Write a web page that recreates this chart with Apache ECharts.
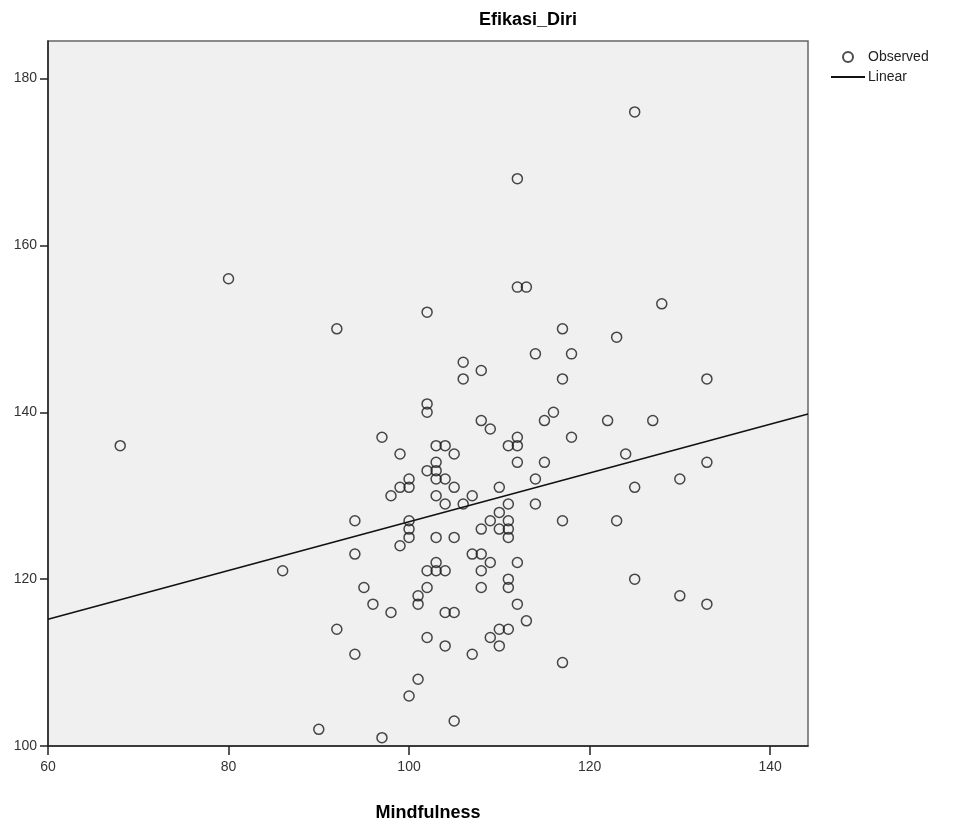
<!DOCTYPE html>
<html>
<head>
<meta charset="utf-8">
<script src="https://cdn.jsdelivr.net/npm/echarts@6/dist/echarts.min.js"></script>
<style>
  html, body { margin: 0; padding: 0; background: #fff; }
  #main { width: 953px; height: 827px; }
</style>
</head>
<body>
<div id="main"></div>
<script>
// Mindfulness (x) vs Efikasi_Diri (y)
var mindfulness = [
    125, 112, 80, 92, 68, 112, 113, 128, 102, 117,
    123, 114, 118, 106, 108, 106, 117, 133, 102, 102,
    116, 108, 115, 122, 127, 109, 97, 112, 118, 103,
    104, 111, 112, 99, 105, 124, 103, 112, 115, 133,
    102, 103, 100, 103, 104, 114, 130, 99, 100, 105,
    110, 125, 98, 103, 107, 104, 106, 111, 114, 110,
    94, 100, 109, 111, 117, 123, 100, 108, 110, 111,
    100, 103, 105, 111, 99, 94, 107, 108, 103, 109,
    112, 86, 102, 103, 104, 108, 111, 125, 95, 102,
    108, 111, 101, 130, 96, 101, 112, 133, 98, 104,
    105, 113, 92, 110, 111, 102, 109, 104, 110, 94,
    107, 117, 101, 100, 105, 90, 97
];
var efikasiDiri = [
    176, 168, 156, 150, 136, 155, 155, 153, 152, 150,
    149, 147, 147, 146, 145, 144, 144, 144, 141, 140,
    140, 139, 139, 139, 139, 138, 137, 137, 137, 136,
    136, 136, 136, 135, 135, 135, 134, 134, 134, 134,
    133, 133, 132, 132, 132, 132, 132, 131, 131, 131,
    131, 131, 130, 130, 130, 129, 129, 129, 129, 128,
    127, 127, 127, 127, 127, 127, 126, 126, 126, 126,
    125, 125, 125, 125, 124, 123, 123, 123, 122, 122,
    122, 121, 121, 121, 121, 121, 120, 120, 119, 119,
    119, 119, 118, 118, 117, 117, 117, 117, 116, 116,
    116, 115, 114, 114, 114, 113, 113, 112, 112, 111,
    111, 110, 108, 106, 103, 102, 101
];
// linear fit line as drawn (x, y at the two ends of the plot)
var linearX = [60, 144.2];
var linearY = [115.2, 139.8];

var xTicks = [60, 80, 100, 120, 140];
var yTicks = [100, 120, 140, 160, 180];

var observed = mindfulness.map(function (x, i) { return [x, efikasiDiri[i]]; });
var linear = linearX.map(function (x, i) { return [x, linearY[i]]; });

var myChart = echarts.init(document.getElementById('main'));

var font = '"Liberation Sans", Arial, sans-serif';

var option = {
    animation: false,
    title: {
        text: 'Efikasi_Diri',
        left: 523,
        textAlign: 'center',
        top: 6,
        textStyle: { fontFamily: font, fontSize: 18, fontWeight: 'bold', color: '#000' }
    },
    legend: {
        orient: 'vertical',
        left: 826,
        top: 45,
        itemGap: 6,
        itemWidth: 34,
        itemHeight: 10,
        symbolKeepAspect: true,
        textStyle: { fontFamily: font, fontSize: 14, color: '#222', padding: [0, 0, 0, -2] },
        data: [
            {
                name: 'Observed', icon: 'emptyCircle',
                itemStyle: { color: '#222', borderColor: '#222', borderWidth: 1.4 }
            },
            { name: 'Linear', icon: 'path://M0,5 L34,5 L34,7 L0,7 Z' }
        ]
    },
    grid: {
        left: 48,
        right: 145,
        top: 41,
        bottom: 79,
        show: true,
        backgroundColor: '#f0f0f0',
        borderColor: '#666',
        borderWidth: 1.5
    },
    xAxis: {
        type: 'value',
        min: 60,
        max: 144.2,
        interval: 20,
        name: 'Mindfulness',
        nameLocation: 'middle',
        nameGap: 58,
        nameTextStyle: { fontFamily: font, fontSize: 18, fontWeight: 'bold', color: '#000' },
        axisLine: { lineStyle: { color: '#222', width: 1.5 } },
        axisTick: { show: true, length: 9, customValues: xTicks, lineStyle: { color: '#222', width: 1.5 } },
        axisLabel: {
            fontFamily: font, fontSize: 14, color: '#333', margin: 14,
            customValues: xTicks
        },
        splitLine: { show: false }
    },
    yAxis: {
        type: 'value',
        min: 100,
        max: 184.5,
        interval: 20,
        axisLine: { show: true, lineStyle: { color: '#222', width: 1.5 } },
        axisTick: { show: true, length: 8, customValues: yTicks, lineStyle: { color: '#222', width: 1.5 } },
        axisLabel: {
            fontFamily: font, fontSize: 14, color: '#333', margin: 11,
            customValues: yTicks
        },
        splitLine: { show: false }
    },
    series: [
        {
            name: 'Observed',
            type: 'scatter',
            data: observed,
            symbol: 'circle',
            symbolSize: 10,
            itemStyle: { color: 'rgba(0,0,0,0)', borderColor: '#1a1a1a', borderWidth: 1.5 },
            z: 3
        },
        {
            name: 'Linear',
            type: 'line',
            data: linear,
            showSymbol: false,
            symbol: 'none',
            lineStyle: { color: '#111', width: 1.6 },
            itemStyle: { color: '#111' },
            z: 2
        }
    ]
};

myChart.setOption(option);
</script>
</body>
</html>
